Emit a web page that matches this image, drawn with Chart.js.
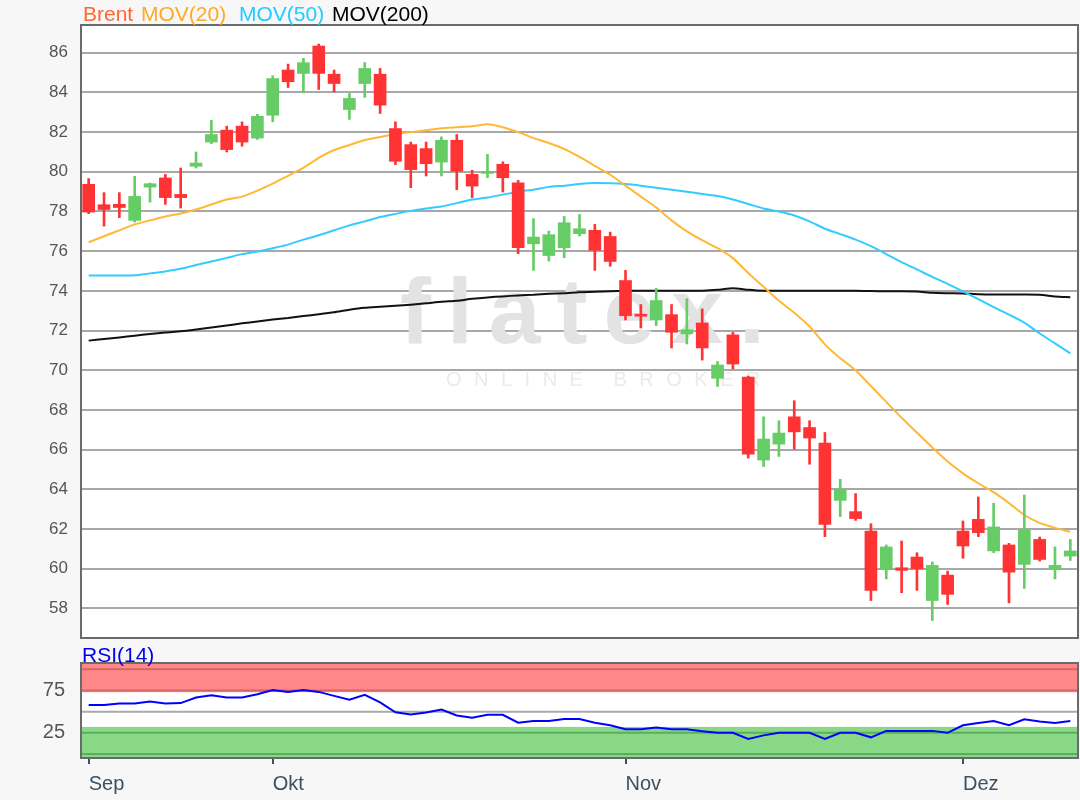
<!DOCTYPE html>
<html>
<head>
<meta charset="utf-8">
<title>Brent</title>
<script src="https://cdn.jsdelivr.net/npm/chart.js@4/dist/chart.umd.min.js"></script>
<style>
  body { margin: 0; background: #f7f7f7; font-family: "Liberation Sans", Arial, sans-serif; }
  #wrap { position: relative; width: 1080px; height: 800px; overflow: hidden; }
  #kurs { position: absolute; left: 0; top: 0; }
  #rsi { position: absolute; left: 0; top: 640px; }
  .leg { position: absolute; top: 4px; font-size: 21px; line-height: 20px; white-space: nowrap; }
  #rsiTitel { position: absolute; left: 82px; top: 645px; font-size: 21px; line-height: 20px; color: #0000ee; }
</style>
</head>
<body>
<div id="wrap">
  <canvas id="kurs" width="1080" height="645"></canvas>
  <canvas id="rsi" width="1080" height="160"></canvas>
  <div class="leg" style="left:83px;color:#ff6633">Brent</div>
  <div class="leg" style="left:141px;color:#ffaa22">MOV(20)</div>
  <div class="leg" style="left:239px;color:#22ccff">MOV(50)</div>
  <div class="leg" style="left:332px;color:#000">MOV(200)</div>
  <div id="rsiTitel">RSI(14)</div>
</div>
<script>
// Handelstage
const tage = [
  '2018-09-13', '2018-09-14', '2018-09-17', '2018-09-18', '2018-09-19', '2018-09-20', '2018-09-21',
  '2018-09-24', '2018-09-25', '2018-09-26', '2018-09-27', '2018-09-28',
  '2018-10-01', '2018-10-02', '2018-10-03', '2018-10-04', '2018-10-05', '2018-10-08', '2018-10-09',
  '2018-10-10', '2018-10-11', '2018-10-12', '2018-10-15', '2018-10-16', '2018-10-17', '2018-10-18',
  '2018-10-19', '2018-10-22', '2018-10-23', '2018-10-24', '2018-10-25', '2018-10-26', '2018-10-29',
  '2018-10-30', '2018-10-31',
  '2018-11-01', '2018-11-02', '2018-11-05', '2018-11-06', '2018-11-07', '2018-11-08', '2018-11-09',
  '2018-11-12', '2018-11-13', '2018-11-14', '2018-11-15', '2018-11-16', '2018-11-19', '2018-11-20',
  '2018-11-21', '2018-11-22', '2018-11-23', '2018-11-26', '2018-11-27', '2018-11-28', '2018-11-29',
  '2018-11-30',
  '2018-12-03', '2018-12-04', '2018-12-05', '2018-12-06', '2018-12-07', '2018-12-10', '2018-12-11',
  '2018-12-12'
];
const monate = ['Jan', 'Feb', 'Mär', 'Apr', 'Mai', 'Jun', 'Jul', 'Aug', 'Sep', 'Okt', 'Nov', 'Dez'];

// Kerzen
const eroeffnung = [
  79.37, 78.34, 78.36, 77.55, 79.23, 79.69, 78.86, 80.28, 81.5, 82.1, 82.3, 81.7,
  82.85, 85.13, 84.96, 86.34, 84.92, 83.14, 84.45, 84.92, 82.18, 81.37, 81.17, 80.49,
  81.59, 79.87, 79.92, 80.38, 79.45, 76.37, 75.78, 76.17, 76.88, 77.05, 76.74,
  74.52, 72.8, 72.53, 72.8, 71.83, 72.38, 69.59, 71.78, 69.65, 65.47, 66.27, 67.65,
  67.11, 66.32, 63.44, 62.87, 61.89, 59.96, 60.04, 60.58, 58.39, 59.67,
  61.89, 62.48, 60.89, 61.19, 60.21, 61.47, 59.96, 60.63
];
const hoch = [
  79.66, 78.95, 78.95, 79.77, 79.43, 79.87, 80.19, 81.0, 82.6, 82.3, 82.52, 82.9,
  84.84, 85.43, 85.72, 86.44, 85.13, 83.95, 85.51, 85.21, 82.52, 81.5, 81.5, 81.76,
  81.88, 80.08, 80.88, 80.5, 79.57, 77.64, 77.01, 77.75, 77.85, 77.35, 76.96,
  75.03, 73.31, 74.13, 73.31, 73.6, 73.09, 70.44, 71.91, 69.7, 67.65, 67.45, 68.46,
  67.45, 66.86, 64.5, 63.78, 62.26, 61.19, 61.39, 60.8, 60.34, 59.87,
  62.4, 63.61, 63.29, 61.27, 63.71, 61.59, 61.09, 61.47
];
const tief = [
  77.89, 77.26, 77.69, 77.47, 78.47, 78.36, 78.17, 80.19, 81.42, 81.0, 81.29, 81.63,
  82.52, 84.25, 83.98, 84.15, 84.03, 82.64, 83.75, 82.94, 80.36, 79.2, 79.79, 79.79,
  79.1, 78.7, 79.7, 78.98, 75.87, 75.03, 75.5, 75.67, 76.76, 75.03, 75.24,
  72.53, 72.13, 72.25, 71.12, 71.32, 70.51, 69.18, 70.06, 65.57, 65.14, 65.65, 66.02,
  65.26, 61.61, 62.62, 62.43, 58.39, 59.48, 58.78, 58.9, 57.38, 58.19,
  60.52, 61.61, 60.8, 58.27, 59.0, 60.38, 59.48, 60.41
];
const schluss = [
  77.97, 78.1, 78.2, 78.76, 79.4, 78.7, 78.7, 80.44, 81.88, 81.12, 81.5, 82.8,
  84.7, 84.54, 85.5, 84.96, 84.45, 83.7, 85.21, 83.36, 80.53, 80.11, 80.41, 81.59,
  80.03, 79.28, 80.0, 79.7, 76.17, 76.71, 76.83, 77.43, 77.13, 76.04, 75.48,
  72.75, 72.72, 73.51, 71.91, 72.04, 71.12, 70.26, 70.31, 65.77, 66.53, 66.83, 66.89,
  66.58, 62.23, 64.0, 62.52, 58.9, 61.09, 59.91, 59.99, 60.16, 58.7,
  61.14, 61.81, 62.1, 59.82, 61.94, 60.46, 60.16, 60.89
];

// gleitende Durchschnitte
const mov20 = [
  76.45, 76.75, 77.05, 77.35, 77.55, 77.75, 77.9, 78.1, 78.35, 78.6, 78.75, 79.05,
  79.4, 79.8, 80.2, 80.7, 81.1, 81.35, 81.6, 81.75, 81.9, 82.0, 82.1, 82.2,
  82.25, 82.3, 82.4, 82.25, 82.0, 81.7, 81.45, 81.15, 80.75, 80.3, 79.85,
  79.3, 78.75, 78.2, 77.55, 77.0, 76.55, 76.15, 75.65, 74.9, 74.2, 73.5, 72.9,
  72.2, 71.3, 70.6, 70.0, 69.2, 68.4, 67.6, 66.85, 66.1, 65.4,
  64.8, 64.3, 63.85, 63.3, 62.7, 62.3, 62.05, 61.85
];
const mov50 = [
  74.77, 74.77, 74.77, 74.78, 74.88, 74.98, 75.11, 75.3, 75.48, 75.66, 75.85, 75.98,
  76.15, 76.33, 76.58, 76.8, 77.05, 77.3, 77.5, 77.72, 77.88, 78.03, 78.15, 78.25,
  78.42, 78.6, 78.7, 78.85, 79.0, 79.1, 79.24, 79.3, 79.38, 79.43, 79.42,
  79.38, 79.3, 79.2, 79.1, 79.0, 78.88, 78.78, 78.6, 78.38, 78.15, 78.0, 77.8,
  77.5, 77.13, 76.86, 76.58, 76.25, 75.85, 75.45, 75.08, 74.7, 74.35,
  73.97, 73.58, 73.18, 72.8, 72.4, 71.85, 71.35, 70.85
];
const mov200 = [
  71.49, 71.57, 71.65, 71.74, 71.82, 71.9, 71.96, 72.05, 72.15, 72.25, 72.36, 72.45,
  72.55, 72.63, 72.73, 72.82, 72.92, 73.05, 73.15, 73.2, 73.25, 73.3, 73.37, 73.45,
  73.5, 73.6, 73.67, 73.72, 73.77, 73.8, 73.85, 73.88, 73.93, 73.95, 73.98,
  74.0, 74.0, 74.0, 74.0, 74.01, 74.01, 74.05, 74.13, 74.05, 74.0, 74.0, 74.0,
  74.0, 74.0, 74.0, 74.0, 73.99, 73.98, 73.98, 73.97, 73.9, 73.88,
  73.87, 73.83, 73.81, 73.81, 73.81, 73.8, 73.72, 73.68
];

// RSI(14)
const rsi14 = [
  57.9, 57.9, 59.7, 59.7, 62.0, 59.7, 60.1, 66.7, 69.4, 66.7, 66.7, 70.6,
  75.6, 73.3, 75.6, 73.3, 68.6, 64.0, 69.8, 60.9, 49.3, 46.6, 49.0, 52.4,
  45.5, 42.8, 46.3, 46.3, 37.0, 38.9, 38.9, 41.2, 41.2, 37.0, 33.9,
  29.3, 29.3, 31.2, 29.3, 29.3, 27.0, 25.0, 25.0, 17.7, 22.0, 25.0, 25.0,
  25.0, 17.7, 25.0, 25.0, 19.7, 27.3, 27.3, 27.3, 27.3, 25.0,
  33.9, 36.6, 38.9, 33.9, 40.9, 38.5, 36.6, 38.9
];

const kursTicks = [58, 60, 62, 64, 66, 68, 70, 72, 74, 76, 78, 80, 82, 84, 86];
const rsiTicks = [25, 75];
const rsiZoneOben = [73, 107.4];   // überkauft
const rsiZoneUnten = [-4.7, 32];   // überverkauft
const rsiLinienOben = [75, 100];
const rsiLinienUnten = [0, 25];
const rsiMitte = [50];

Chart.defaults.font.family = "'Liberation Sans', Arial, sans-serif";

const farben = eroeffnung.map((o, i) => schluss[i] >= o ? '#66cc66' : '#ff3333');

function monatLabel(i) {
  if (i > 0 && tage[i - 1].slice(5, 7) == tage[i].slice(5, 7)) return '';
  return monate[Number(tage[i].slice(5, 7)) - 1];
}

// feste Breite der y-Achse, kein Extra-Rand durch die Beschriftung
function yAchseFix(s) {
  s.width = 81;
  s.paddingTop = 0;
  s.paddingBottom = 0;
}

// weisser Hintergrund im Plotbereich
const hintergrund = {
  id: 'hintergrund',
  beforeDraw(chart) {
    const { ctx, chartArea: a } = chart;
    ctx.save();
    ctx.fillStyle = '#ffffff';
    ctx.fillRect(a.left, a.top, a.right - a.left, a.bottom - a.top);
    ctx.restore();
  }
};

// Rahmen um den Plotbereich
const rahmen = {
  id: 'rahmen',
  afterDraw(chart) {
    const { ctx, chartArea: a } = chart;
    ctx.save();
    ctx.strokeStyle = '#6a6a6a';
    ctx.lineWidth = 2;
    ctx.strokeRect(a.left, a.top, a.right - a.left, a.bottom - a.top);
    ctx.restore();
  }
};

// flatex Wasserzeichen
const wasserzeichen = {
  id: 'wasserzeichen',
  beforeDatasetsDraw(chart) {
    const ctx = chart.ctx;
    ctx.save();
    ctx.fillStyle = '#e3e3e3';
    ctx.font = "bold 93px 'Liberation Sans', Arial, sans-serif";
    ctx.letterSpacing = '16px';
    ctx.fillText('flatex.', 400, 343);
    ctx.fillStyle = '#ebebeb';
    ctx.font = "20px 'Liberation Sans', Arial, sans-serif";
    ctx.letterSpacing = '12.5px';
    ctx.fillText('ONLINE BROKER', 446, 386);
    ctx.restore();
  }
};

// RSI Zonen
const rsiZonen = {
  id: 'rsiZonen',
  beforeDatasetsDraw(chart) {
    const { ctx, chartArea: a, scales: { y } } = chart;
    ctx.save();
    ctx.fillStyle = '#ff8888';
    ctx.fillRect(a.left, y.getPixelForValue(rsiZoneOben[1]), a.right - a.left,
      y.getPixelForValue(rsiZoneOben[0]) - y.getPixelForValue(rsiZoneOben[1]));
    ctx.fillStyle = '#88d888';
    ctx.fillRect(a.left, y.getPixelForValue(rsiZoneUnten[1]), a.right - a.left,
      y.getPixelForValue(rsiZoneUnten[0]) - y.getPixelForValue(rsiZoneUnten[1]));
    ctx.lineWidth = 2;
    function linie(v, farbe) {
      const py = y.getPixelForValue(v);
      ctx.strokeStyle = farbe;
      ctx.beginPath();
      ctx.moveTo(a.left, py);
      ctx.lineTo(a.right, py);
      ctx.stroke();
    }
    rsiLinienOben.forEach(v => linie(v, '#d86464'));
    rsiLinienUnten.forEach(v => linie(v, '#5cae5c'));
    rsiMitte.forEach(v => linie(v, '#aaaaaa'));
    ctx.restore();
  }
};

new Chart(document.getElementById('kurs'), {
  type: 'bar',
  data: {
    labels: tage,
    datasets: [
      {
        label: 'Brent',
        data: eroeffnung.map((o, i) => [o, schluss[i]]),
        backgroundColor: farben,
        barThickness: 12,
        minBarLength: 2,
        grouped: false,
        order: 1
      },
      {
        label: 'Docht',
        data: tief.map((t, i) => [t, hoch[i]]),
        backgroundColor: farben,
        barThickness: 2,
        grouped: false,
        order: 2
      },
      { type: 'line', label: 'MOV(20)', data: mov20, borderColor: '#ffb833', borderWidth: 2, pointRadius: 0, tension: 0.2, order: 3 },
      { type: 'line', label: 'MOV(50)', data: mov50, borderColor: '#33ccff', borderWidth: 2, pointRadius: 0, tension: 0.2, order: 4 },
      { type: 'line', label: 'MOV(200)', data: mov200, borderColor: '#111111', borderWidth: 2, pointRadius: 0, tension: 0.2, order: 5 }
    ]
  },
  options: {
    responsive: false,
    animation: false,
    layout: { padding: { top: 25, right: 2, bottom: 7, left: 0 } },
    plugins: { legend: { display: false }, tooltip: { enabled: false } },
    scales: {
      x: { display: false, offset: true },
      y: {
        min: 56.5,
        max: 87.4,
        afterFit: yAchseFix,
        afterBuildTicks: s => { s.ticks = kursTicks.map(v => ({ value: v })); },
        grid: { color: '#a8a8a8', lineWidth: 2, drawTicks: false },
        border: { display: false },
        ticks: { padding: 13, color: '#555555', font: { size: 17 } }
      }
    }
  },
  plugins: [hintergrund, wasserzeichen, rahmen]
});

new Chart(document.getElementById('rsi'), {
  type: 'line',
  data: {
    labels: tage,
    datasets: [
      { label: 'RSI(14)', data: rsi14, borderColor: '#0000ff', borderWidth: 2, pointRadius: 0, tension: 0 }
    ]
  },
  options: {
    responsive: false,
    animation: false,
    layout: { padding: { top: 23, right: 2, bottom: 0, left: 0 } },
    plugins: { legend: { display: false }, tooltip: { enabled: false } },
    scales: {
      x: {
        offset: true,
        afterFit: s => { s.height = 42; },
        grid: {
          drawOnChartArea: false,
          tickLength: 6,
          lineWidth: 2,
          tickColor: c => monatLabel(c.index) ? '#3c5064' : 'rgba(0,0,0,0)'
        },
        border: { display: false },
        ticks: {
          autoSkip: false,
          maxRotation: 0,
          align: 'start',
          padding: 8,
          color: '#3c5064',
          font: { size: 20 },
          callback: (v, i) => monatLabel(i)
        }
      },
      y: {
        min: -4.7,
        max: 107.4,
        afterFit: yAchseFix,
        afterBuildTicks: s => { s.ticks = rsiTicks.map(v => ({ value: v })); },
        grid: { display: false, drawTicks: false },
        border: { display: false },
        ticks: { padding: 16, color: '#555555', font: { size: 20 } }
      }
    }
  },
  plugins: [hintergrund, rsiZonen, rahmen]
});
</script>
</body>
</html>
